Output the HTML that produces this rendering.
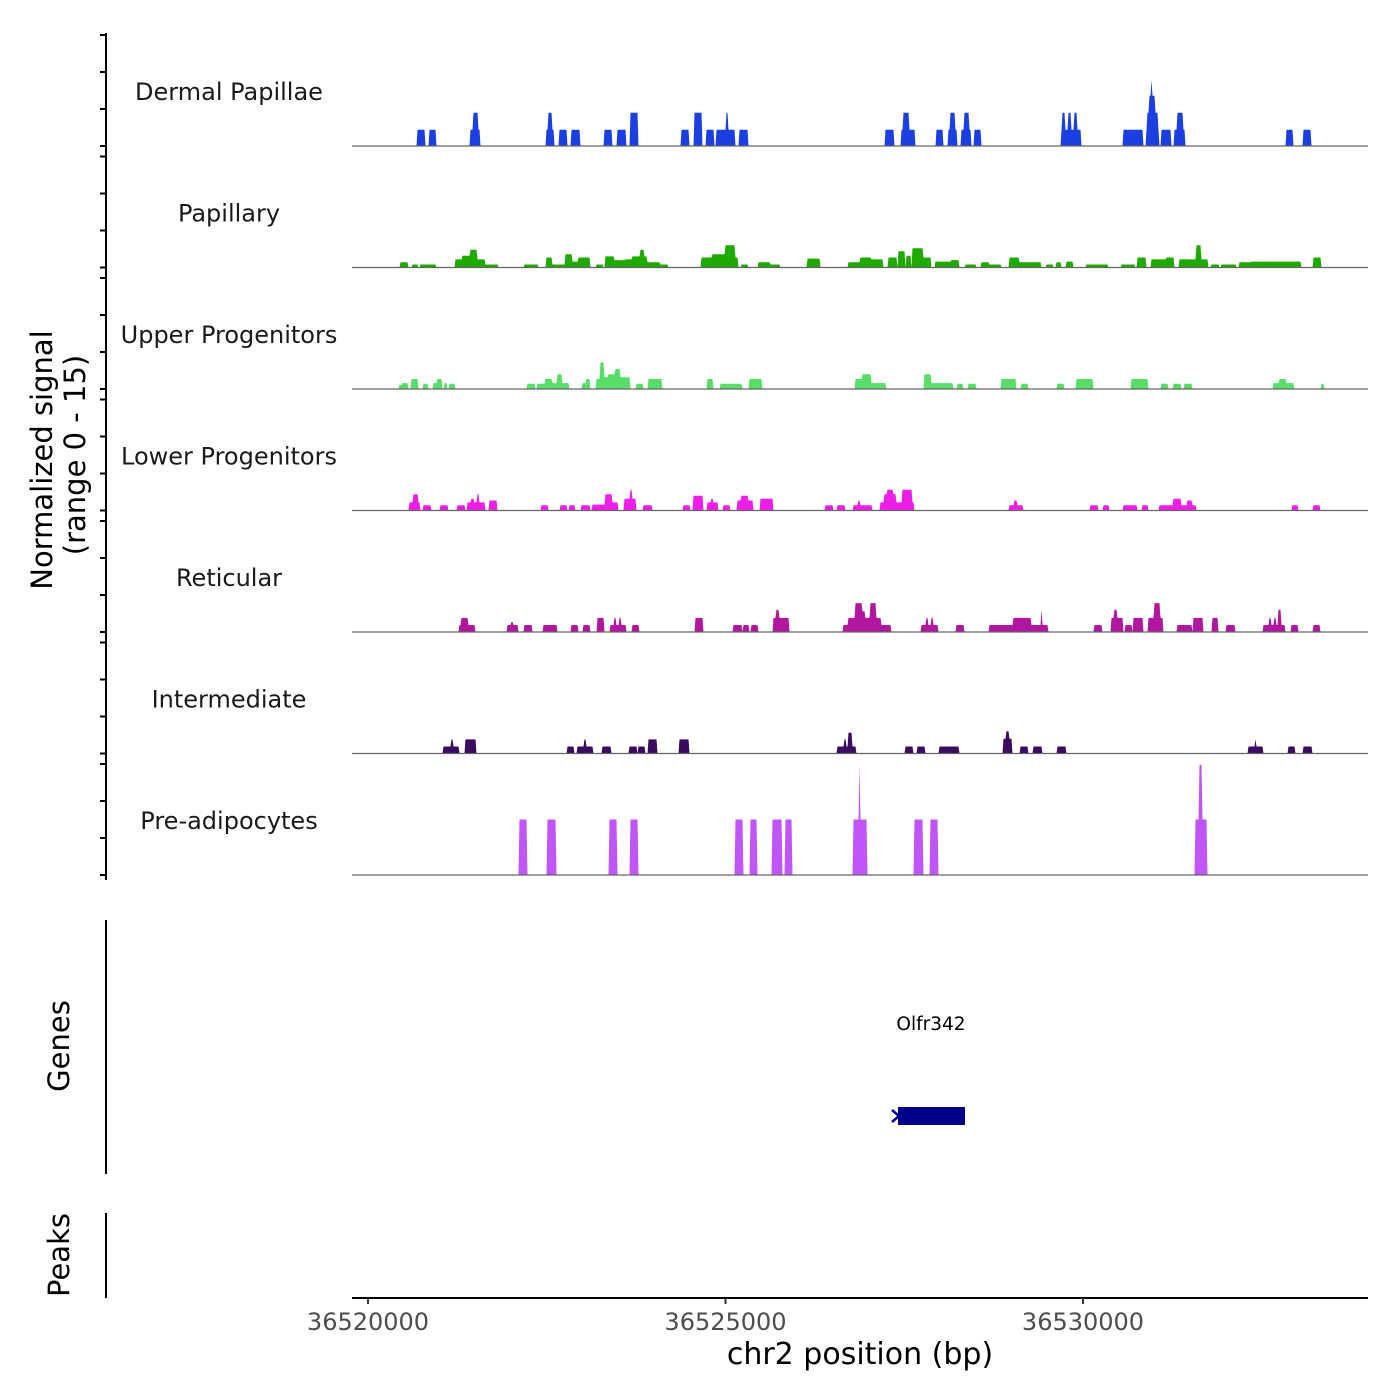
<!DOCTYPE html>
<html><head><meta charset="utf-8"><style>
html,body{margin:0;padding:0;background:#fff;}
svg{display:block;font-family:"DejaVu Sans","Liberation Sans",sans-serif;}
</style></head><body>
<svg id="chart" width="1400" height="1400" viewBox="0 0 1400 1400" xmlns="http://www.w3.org/2000/svg">
<rect width="1400" height="1400" fill="#fff"/>
<g id="tracks"></g>
<g id="yaxis"></g>
<text transform="translate(52,460) rotate(-90)" text-anchor="middle" font-size="29" fill="#000">Normalized signal</text>
<text transform="translate(85,455) rotate(-90)" text-anchor="middle" font-size="29" fill="#000">(range 0 - 15)</text>
<line x1="106" y1="920" x2="106" y2="1174" stroke="#000" stroke-width="2"/>
<text transform="translate(69,1046) rotate(-90)" text-anchor="middle" font-size="29" fill="#000">Genes</text>
<line x1="106" y1="1213" x2="106" y2="1298" stroke="#000" stroke-width="2"/>
<text transform="translate(69,1255) rotate(-90)" text-anchor="middle" font-size="29" fill="#000">Peaks</text>
<g>
<text x="931" y="1030" text-anchor="middle" font-size="18.5" fill="#000">Olfr342</text>
<rect x="898" y="1107" width="67" height="18" fill="#00008b"/>
<path d="M892 1110 L899 1116 L892 1122" stroke="#00008b" stroke-width="2.5" fill="none"/>
</g>
<g id="xaxis"></g>
<text x="860" y="1364" text-anchor="middle" font-size="30" fill="#000">chr2 position (bp)</text>
</svg>
<script>
const regionStart = 36520000;
const trackNames = ["Dermal Papillae","Papillary","Upper Progenitors","Lower Progenitors","Reticular","Intermediate","Pre-adipocytes"];
const trackColors = ["#1b3fe0","#1faa00","#58de68","#ee1ee8","#b0179e","#3a0b5e","#c056f7"];
const xTicks = [36520000,36525000,36530000];
const yTicks = [0,5,10,15];
// segments: [startOffsetBp, endOffsetBp, signal]
const dermalPapillae = [[686,798,2.2],[854,952,2.2],[1428,1568,2.2],[1470,1540,4.5],[2492,2604,2.2],[2520,2576,4.5],[2674,2786,2.2],[2842,2968,2.2],[3304,3416,2.2],[3486,3612,2.2],[3668,3780,4.5],[4382,4494,2.2],[4564,4676,4.5],[4732,4844,2.2],[4872,5138,2.2],[5012,5040,4.5],[5194,5320,2.2],[7224,7350,2.2],[7448,7644,2.2],[7476,7560,4.5],[7938,8036,2.2],[8106,8232,2.2],[8134,8204,4.5],[8288,8428,2.2],[8330,8400,4.5],[8470,8568,2.2],[9688,9968,2.2],[9702,9744,4.5],[9786,9828,4.5],[9870,9912,4.5],[10556,10836,2.2],[10878,11060,2.2],[10892,11046,4.5],[10920,11004,6.8],[10948,10962,8.9],[11088,11228,2.2],[11270,11424,2.2],[11312,11396,4.5],[12838,12936,2.2],[13076,13188,2.2]];
const papillary = [[448,560,0.7],[616,700,0.4],[728,952,0.4],[1218,1316,1.1],[1316,1428,1.6],[1428,1526,2.4],[1526,1638,1.1],[1638,1820,0.4],[2184,2380,0.4],[2492,2576,1.35],[2576,2758,0.4],[2758,2856,1.8],[2856,2940,0.8],[2940,3108,1.35],[3192,3290,0.4],[3318,3444,1.5],[3444,3598,1.0],[3598,3696,1.1],[3696,3906,1.5],[3808,3864,2.4],[3906,4088,0.7],[4088,4200,0.4],[4662,4816,1.35],[4816,4998,1.8],[4998,5138,3.0],[5138,5180,1.35],[5222,5320,0.4],[5460,5628,0.7],[5628,5768,0.4],[6146,6328,1.2],[6720,6888,0.7],[6888,7028,1.35],[7028,7196,1.1],[7266,7392,1.35],[7406,7504,2.2],[7518,7588,1.6],[7602,7756,2.6],[7756,7868,1.35],[7924,8148,0.8],[8148,8260,1.0],[8344,8498,0.4],[8568,8680,0.7],[8680,8848,0.4],[8960,9100,1.35],[9100,9408,0.7],[9478,9576,0.4],[9618,9688,0.7],[9758,9856,0.8],[10038,10346,0.4],[10528,10724,0.4],[10752,10878,1.35],[10948,11158,1.1],[11158,11270,1.35],[11340,11746,1.1],[11578,11648,3.0],[11788,11900,0.4],[11928,12138,0.4],[12180,12348,0.7],[12348,13048,0.8],[13216,13328,1.35]];
const upperProgenitors = [[434,476,0.55],[476,560,0.8],[602,700,1.35],[770,840,0.7],[910,966,0.8],[966,1036,1.35],[1064,1106,0.8],[1134,1218,0.7],[2226,2338,0.7],[2366,2478,0.7],[2478,2576,1.35],[2576,2646,0.8],[2646,2716,2.0],[2716,2814,0.8],[2996,3108,0.8],[3052,3108,1.35],[3192,3248,1.35],[3248,3304,3.6],[3304,3360,1.6],[3360,3458,2.0],[3458,3528,2.7],[3528,3668,1.6],[3752,3850,0.7],[3920,4116,1.35],[4746,4830,1.35],[4928,5236,0.7],[5334,5516,1.35],[6818,6916,1.35],[6916,7028,2.0],[7028,7238,0.8],[7770,7868,2.0],[7868,8176,0.8],[8232,8316,0.7],[8386,8498,0.7],[8848,9058,1.35],[9128,9226,0.7],[9632,9730,0.7],[9898,10136,1.35],[10668,10906,1.35],[11088,11186,0.7],[11256,11368,0.7],[11410,11522,0.7],[12656,12950,0.8],[12740,12838,1.35],[13328,13370,0.7]];
const lowerProgenitors = [[574,728,1.1],[630,700,2.2],[770,882,0.7],[1008,1120,0.7],[1246,1358,0.7],[1386,1638,1.1],[1442,1484,1.6],[1526,1554,2.2],[1694,1806,1.35],[2422,2520,0.7],[2688,2786,0.7],[2814,2898,0.7],[2982,3108,0.7],[3136,3318,0.8],[3318,3416,2.2],[3416,3500,1.1],[3584,3752,1.6],[3668,3696,2.8],[3850,3976,0.7],[4410,4508,0.7],[4550,4690,2.0],[4746,4900,1.1],[4802,4830,1.6],[4970,5068,0.7],[5166,5390,1.35],[5222,5320,2.0],[5488,5670,1.6],[6398,6510,0.7],[6566,6678,0.7],[6790,7042,0.7],[6860,6888,1.35],[7154,7630,1.1],[7210,7378,2.2],[7252,7336,2.8],[7462,7602,2.8],[8960,9156,0.7],[9030,9072,1.35],[10094,10206,0.7],[10276,10360,0.7],[10556,10752,0.7],[10822,10906,0.7],[11060,11578,0.7],[11256,11368,1.6],[11452,11522,1.35],[12922,13006,0.7],[13216,13314,0.7]];
const reticular = [[1274,1498,0.95],[1302,1400,1.9],[1946,2100,0.95],[2002,2030,1.35],[2184,2296,0.95],[2450,2646,0.95],[2842,2940,0.95],[3010,3108,0.95],[3206,3304,1.9],[3388,3612,0.95],[3444,3472,1.9],[3514,3542,1.9],[3696,3794,0.95],[4578,4690,1.9],[5110,5194,0.95],[5138,5236,0.95],[5250,5334,0.95],[5362,5460,0.95],[5670,5894,1.9],[5712,5754,3.0],[6650,7308,0.95],[6720,7168,1.9],[6818,6916,3.9],[7014,7098,3.9],[6888,6958,2.8],[7728,7966,0.95],[7798,7826,1.9],[7868,7896,1.9],[8218,8330,0.95],[8680,9506,0.95],[9016,9268,1.9],[9408,9422,3.0],[10150,10262,0.95],[10388,10556,1.9],[10430,10472,3.0],[10584,10682,0.95],[10696,10836,1.9],[10906,11116,1.9],[10990,11074,3.9],[11312,11522,0.95],[11536,11676,1.9],[11802,11886,1.9],[11998,12124,0.95],[12516,12824,0.95],[12600,12628,1.9],[12670,12698,1.9],[12726,12768,3.0],[12908,13006,0.95],[13216,13314,0.95]];
const intermediate = [[1050,1274,0.95],[1162,1190,1.9],[1358,1512,1.9],[2786,2884,0.95],[2926,3150,0.95],[3024,3052,1.9],[3276,3402,0.95],[3654,3766,0.95],[3780,3878,0.95],[3920,4046,1.9],[4354,4494,1.9],[6566,6832,0.95],[6664,6692,1.9],[6720,6776,2.8],[7504,7616,0.95],[7672,7784,0.95],[7980,8148,0.95],[8148,8260,0.95],[8876,9002,2.0],[8918,8960,3.0],[9114,9226,0.95],[9296,9422,0.95],[9632,9758,0.95],[12306,12516,0.95],[12404,12418,1.9],[12866,12964,0.95],[13076,13202,0.95]];
const preAdipocytes = [[2114,2226,7.5],[2506,2632,7.5],[3374,3486,7.5],[3668,3780,7.5],[5138,5250,7.5],[5348,5446,7.5],[5656,5796,7.5],[5838,5936,7.5],[6790,6986,7.5],[6874,6888,14.9],[7630,7756,7.5],[7854,7966,7.5],[11564,11732,7.5],[11620,11662,14.9]];
const trackData = [dermalPapillae,papillary,upperProgenitors,lowerProgenitors,reticular,intermediate,preAdipocytes];

const NS = "http://www.w3.org/2000/svg";
const plotL = 352, plotR = 1368;
const pxPerBp = 357.5/5000;
function xScale(bp){ return 368 + (bp - regionStart) * pxPerBp; }
function bpAt(px){ return regionStart + (px - 368) / pxPerBp; }
const pxPerUnit = 7.4;
function baseline(i){ return 146 + i * 121.5; }
function yScale(i, v){ return baseline(i) - v * pxPerUnit; }
function mk(tag, attrs, parent){ const e = document.createElementNS(NS, tag); for (const k in attrs) e.setAttribute(k, attrs[k]); parent.appendChild(e); return e; }

const tracksG = document.getElementById('tracks');
const yG = document.getElementById('yaxis');
trackNames.forEach((name, i) => {
  const segs = trackData[i];
  const g = mk('g', {}, tracksG);
  
  
  const lbl = mk('text', {x: 229, y: baseline(i) - 46, 'text-anchor': 'middle', 'font-size': 24, fill: '#1a1a1a'}, g);
  lbl.textContent = name;
  
  
  let pts = [];
  for (let px = plotL; px <= plotR; px++) {
    const bp = bpAt(px + 0.5) - regionStart;
    let v = 0;
    for (const s of segs) if (bp >= s[0] && bp < s[1] && s[2] > v) v = s[2];
    pts.push((px + 0.5).toFixed(1) + ',' + yScale(i, v).toFixed(1));
  }
  const poly = mk('polygon', {points: plotL + ',' + baseline(i) + ' ' + pts.join(' ') + ' ' + plotR + ',' + baseline(i), fill: trackColors[i]}, g);
  
  
  const bl = mk('line', {x1: plotL, x2: plotR, y1: baseline(i), y2: baseline(i), stroke: '#666', 'stroke-width': 1.2}, g);
  
  
  yTicks.forEach(t => {
    const tk = mk('line', {x1: 100, x2: 106, y1: yScale(i, t), y2: yScale(i, t), stroke: '#000', 'stroke-width': 2}, yG);
    
    
  });
});
const yl = mk('line', {x1: 106, x2: 106, y1: 33, y2: 880, stroke: '#000', 'stroke-width': 2}, yG);



const xG = document.getElementById('xaxis');
const xl = mk('line', {x1: plotL, x2: plotR, y1: 1298, y2: 1298, stroke: '#000', 'stroke-width': 2}, xG);


xTicks.forEach(t => {
  const tk = mk('line', {x1: xScale(t), x2: xScale(t), y1: 1298, y2: 1304, stroke: '#333', 'stroke-width': 2}, xG);
  
  
  const tl = mk('text', {x: xScale(t), y: 1330, 'text-anchor': 'middle', 'font-size': 24, fill: '#4d4d4d'}, xG);
  tl.textContent = t;
  
  
});
</script>
</body></html>
